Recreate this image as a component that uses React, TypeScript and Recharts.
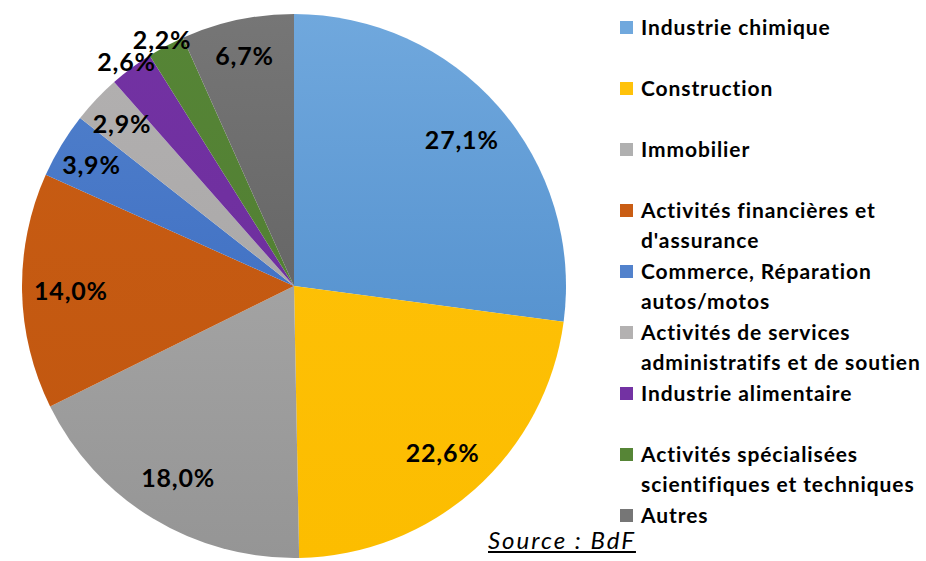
import React from 'react'
import { PieChart, Pie, Cell } from 'recharts'

const sectors = [
  'Industrie chimique',
  'Construction',
  'Immobilier',
  "Activités financières et\nd'assurance",
  'Commerce, Réparation\nautos/motos',
  'Activités de services\nadministratifs et de soutien',
  'Industrie alimentaire',
  'Activités spécialisées\nscientifiques et techniques',
  'Autres',
]
const shares = [27.1, 22.6, 18.0, 14.0, 3.9, 2.9, 2.6, 2.2, 6.7]

// [top, bottom] of the vertical gradient across the pie
const COLORS: [string, string][] = [
  ['#70a8dd', '#4484c6'],
  ['#ffc20a', '#fcbd00'],
  ['#b0b0b0', '#959595'],
  ['#c95d14', '#c0560f'],
  ['#5282cc', '#3464be'],
  ['#b3b1b1', '#a3a1a1'],
  ['#7332a3', '#6a2c9a'],
  ['#568536', '#4f7b31'],
  ['#767676', '#575757'],
]

const data = sectors.map((name, i) => ({ name, value: shares[i] }))

const FONT = 'Lato, "Open Sans", sans-serif'
const RADIAN = Math.PI / 180
const CX = 294
const CY = 286
const R = 272

const fmt = (v: number) => v.toFixed(1).replace('.', ',') + '%'

function renderLabel(props: any) {
  const { cx, cy, midAngle, outerRadius, value } = props
  const k = value < 2.8 ? 1.03 : value < 10 ? 0.87 : 0.82
  const r = outerRadius * k
  const x = cx + r * Math.cos(-midAngle * RADIAN)
  const y = cy + r * Math.sin(-midAngle * RADIAN)
  return (
    <text
      x={x}
      y={y}
      textAnchor="middle"
      dominantBaseline="central"
      fill="#000"
      style={{ fontFamily: FONT, fontSize: 25, fontWeight: 700, letterSpacing: 0.8 }}
    >
      {fmt(value)}
    </text>
  )
}

function LegendList() {
  return (
    <div
      style={{
        position: 'absolute',
        left: 620,
        top: 12,
        width: 306,
        fontFamily: FONT,
        fontSize: 21,
        fontWeight: 700,
        letterSpacing: 0.9,
        color: '#000',
      }}
    >
      {data.map((d, i) => (
        <div key={i} style={{ height: 61, display: 'flex', alignItems: 'flex-start' }}>
          <span
            style={{
              width: 13,
              height: 13,
              marginTop: 9,
              marginRight: 8,
              flexShrink: 0,
              background: COLORS[i][0],
            }}
          />
          <span style={{ whiteSpace: 'pre', lineHeight: '30px' }}>{d.name}</span>
        </div>
      ))}
    </div>
  )
}

export default function App() {
  return (
    <div style={{ position: 'absolute', left: 0, top: 0, width: 926, height: 561, background: '#fff', overflow: 'hidden' }}>
      <svg width={0} height={0} style={{ position: 'absolute' }}>
        <defs>
          {COLORS.map((c, i) => (
            <linearGradient key={i} id={`g${i}`} gradientUnits="userSpaceOnUse" x1={0} y1={CY - R} x2={0} y2={CY + R}>
              <stop offset="0" stopColor={c[0]} />
              <stop offset="1" stopColor={c[1]} />
            </linearGradient>
          ))}
        </defs>
      </svg>
      <PieChart width={926} height={561} margin={{ top: 0, right: 0, bottom: 0, left: 0 }}>
        <Pie
          data={data}
          dataKey="value"
          nameKey="name"
          cx={CX}
          cy={CY}
          outerRadius={R}
          startAngle={90}
          endAngle={-270}
          stroke="none"
          label={renderLabel}
          labelLine={false}
          isAnimationActive={false}
        >
          {data.map((_, i) => (
            <Cell key={i} fill={`url(#g${i})`} />
          ))}
        </Pie>
      </PieChart>
      <LegendList />
      <div
        style={{
          position: 'absolute',
          left: 488,
          top: 525,
          fontFamily: FONT,
          fontSize: 24,
          fontStyle: 'italic',
          letterSpacing: 2,
          textDecoration: 'underline',
          color: '#000',
        }}
      >
        Source : BdF
      </div>
    </div>
  )
}
